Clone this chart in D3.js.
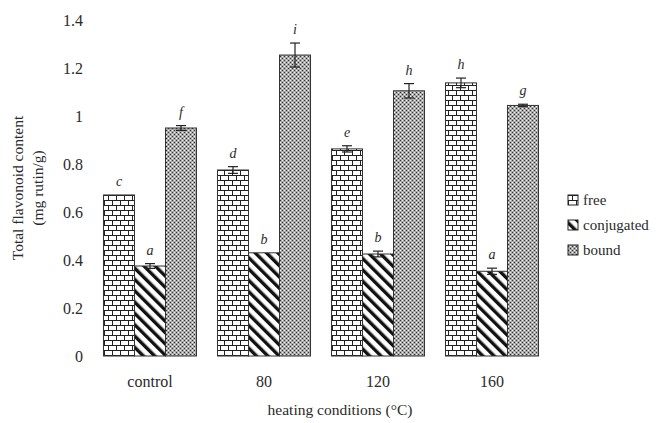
<!DOCTYPE html>
<html>
<head>
<meta charset="utf-8">
<script src="https://cdn.jsdelivr.net/npm/d3@7"></script>
<style>
  body { margin: 0; background: #fff; }
  svg text { font-family: "Liberation Serif", "DejaVu Serif", serif; }
</style>
</head>
<body>
<svg id="chart" width="656" height="423"></svg>
<script>
// data
const conditions = ["control", "80", "120", "160"];
const seriesNames = ["free", "conjugated", "bound"];
const freeVals = [0.671, 0.775, 0.863, 1.138];
const conjVals = [0.375, 0.43, 0.425, 0.353];
const boundVals = [0.95, 1.254, 1.105, 1.044];
const freeErr = [0.0, 0.014, 0.013, 0.02];
const conjErr = [0.01, 0.0, 0.012, 0.013];
const boundErr = [0.01, 0.05, 0.03, 0.005];
const freeLetters = ["c", "d", "e", "h"];
const conjLetters = ["a", "b", "b", "a"];
const boundLetters = ["f", "i", "h", "g"];
const yTicks = [0, 0.2, 0.4, 0.6, 0.8, 1, 1.2, 1.4];

const serif = "'Liberation Serif', 'DejaVu Serif', serif";
const txt = "#2a2a2a";
const svg = d3.select("#chart");

// patterns
const defs = svg.append("defs");

const brick = defs.append("pattern").attr("id", "pat-free")
    .attr("patternUnits", "userSpaceOnUse").attr("width", 8).attr("height", 10);
brick.append("rect").attr("width", 8).attr("height", 10).attr("fill", "#fff");
brick.append("path")
    .attr("d", "M0,0.5H8M0,5.5H8M0.5,0V5M4.5,5V10")
    .attr("stroke", "#222").attr("stroke-width", 1).attr("fill", "none");

const stripe = defs.append("pattern").attr("id", "pat-conj")
    .attr("patternUnits", "userSpaceOnUse").attr("width", 8).attr("height", 8)
    .attr("patternTransform", "rotate(-45)");
stripe.append("rect").attr("width", 8).attr("height", 8).attr("fill", "#fff");
stripe.append("rect").attr("width", 3.4).attr("height", 8).attr("fill", "#111");

const dots = defs.append("pattern").attr("id", "pat-bound")
    .attr("patternUnits", "userSpaceOnUse").attr("width", 4).attr("height", 4);
dots.append("rect").attr("width", 4).attr("height", 4).attr("fill", "#a8a8a8");
[[0, 0], [2, 2]].forEach(p => dots.append("rect").attr("x", p[0]).attr("y", p[1])
    .attr("width", 1).attr("height", 1).attr("fill", "#333"));
[[2, 0], [0, 2]].forEach(p => dots.append("rect").attr("x", p[0]).attr("y", p[1])
    .attr("width", 1).attr("height", 1).attr("fill", "#f4f4f4"));

const fills = { free: "url(#pat-free)", conjugated: "url(#pat-conj)", bound: "url(#pat-bound)" };

// scales
const x = d3.scaleBand().domain(conditions).range([93, 549]).paddingInner(0.184).paddingOuter(0.092);
const xs = d3.scaleBand().domain(seriesNames).range([0, x.bandwidth()]);
const y = d3.scaleLinear().domain([0, 1.4]).range([356, 20]);

const rows = [];
conditions.forEach((c, i) => {
    rows.push({ cond: c, s: "free", v: freeVals[i], e: freeErr[i], l: freeLetters[i] });
    rows.push({ cond: c, s: "conjugated", v: conjVals[i], e: conjErr[i], l: conjLetters[i] });
    rows.push({ cond: c, s: "bound", v: boundVals[i], e: boundErr[i], l: boundLetters[i] });
});

// y axis (labels only)
const yAxis = svg.append("g").attr("transform", "translate(83,0)")
    .call(d3.axisLeft(y).tickValues(yTicks).tickSize(0).tickPadding(0).tickFormat(d3.format("~g")));
yAxis.attr("font-family", serif).attr("font-size", 16);
yAxis.select(".domain").remove();
yAxis.selectAll("text").attr("fill", txt);

// x axis (labels only)
const xAxis = svg.append("g").attr("transform", "translate(0,376)")
    .call(d3.axisBottom(x).tickSize(0).tickPadding(0));
xAxis.attr("font-family", serif).attr("font-size", 16);
xAxis.select(".domain").remove();
xAxis.selectAll("text").attr("fill", txt);

// bars
const bars = svg.append("g");
bars.selectAll("rect").data(rows).enter().append("rect")
    .attr("x", d => x(d.cond) + xs(d.s))
    .attr("y", d => y(d.v))
    .attr("width", xs.bandwidth())
    .attr("height", d => y(0) - y(d.v))
    .attr("fill", d => fills[d.s])
    .attr("stroke", "#333").attr("stroke-width", 1);

// error bars
const eb = svg.append("g").attr("stroke", "#222").attr("stroke-width", 1.2);
rows.filter(d => d.e > 0).forEach(d => {
    const cx = x(d.cond) + xs(d.s) + xs.bandwidth() / 2;
    eb.append("line").attr("x1", cx).attr("x2", cx).attr("y1", y(d.v + d.e)).attr("y2", y(d.v - d.e));
    eb.append("line").attr("x1", cx - 5).attr("x2", cx + 5).attr("y1", y(d.v + d.e)).attr("y2", y(d.v + d.e));
    eb.append("line").attr("x1", cx - 5).attr("x2", cx + 5).attr("y1", y(d.v - d.e)).attr("y2", y(d.v - d.e));
});

// significance letters
svg.append("g").selectAll("text").data(rows).enter().append("text")
    .attr("x", d => x(d.cond) + xs(d.s) + xs.bandwidth() / 2)
    .attr("y", d => y(d.v + d.e) - 9)
    .attr("text-anchor", "middle")
    .attr("font-size", 14).attr("font-style", "italic").attr("fill", txt)
    .text(d => d.l);

// axis titles
svg.append("text").attr("x", 340).attr("y", 415).attr("text-anchor", "middle")
    .attr("font-size", 15.5).attr("fill", txt).text("heating conditions (°C)");
const yt = svg.append("text").attr("transform", "translate(23,188) rotate(-90)")
    .attr("text-anchor", "middle").attr("font-size", 15.5).attr("fill", txt);
yt.append("tspan").attr("x", 0).attr("dy", 0).text("Total flavonoid content");
yt.append("tspan").attr("x", 0).attr("dy", 20).text("(mg rutin/g)");

// legend
const lg = svg.append("g").attr("transform", "translate(568,200)");
const li = lg.selectAll("g").data(seriesNames).enter().append("g")
    .attr("transform", (d, i) => `translate(0,${i * 25})`);
li.append("rect").attr("x", 0).attr("y", -5).attr("width", 10).attr("height", 10)
    .attr("fill", d => fills[d]).attr("stroke", "#222").attr("stroke-width", 1);
li.append("text").attr("x", 15).attr("y", 5).attr("font-size", 15).attr("fill", txt).text(d => d);
</script>
</body>
</html>
